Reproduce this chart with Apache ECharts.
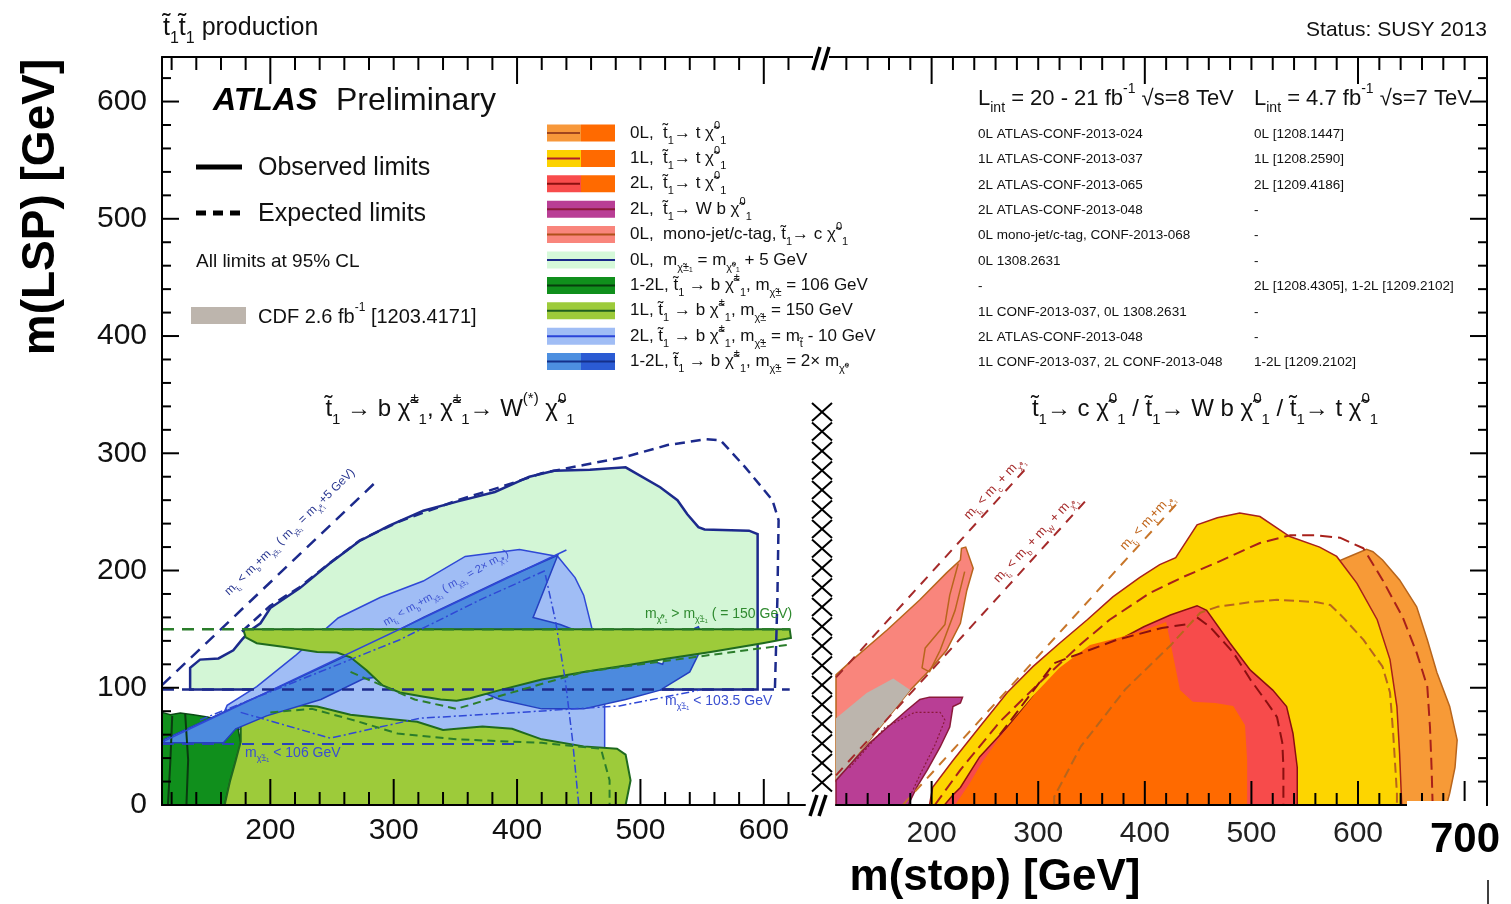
<!DOCTYPE html>
<html>
<head>
<meta charset="utf-8">
<title>Stop pair production limits</title>
<script src="https://cdn.jsdelivr.net/npm/echarts@6/dist/echarts.min.js"></script>
<style>
html, body { margin: 0; padding: 0; background: #fff; }
#main { width: 1511px; height: 904px; }
</style>
</head>
<body>
<div id="main"></div>
<script>
var T = 't\u0303', X = '\u03c7\u0303';
var FONT = "'Liberation Sans', Arial, sans-serif";

// axis ranges (GeV)
var XMIN_L = 112.2, XMAX_L = 633.4, XMIN_R = 110.3, XMAX_R = 721, YMAX = 638;

// ---------- left panel: stop -> b chargino ----------
// 0L, m(chargino) = m(LSP) + 5 GeV
var zeroLcharg = [[135,98.5],[135,117],[143,124],[158,125],[170,132],[177,141],[184,149],[192,155],[200,168],[224,185],[248,206],[272,225],[296,238],[324,251],[352,259],[382,267],[410,280],[430,285],[459,286],[488,288],[516,271],[530,260],[538,248],[547,237],[552,235],[588,234],[595,231],[595,98.5]];
var zeroLchargExp = [[177,148],[200,170],[224,186],[249,207],[273,226],[305,242],[352,260],[386,271],[420,283],[454,290],[488,297],[522,307],[553,312],[565,311],[585,288],[607,260],[612,243],[611,175],[609,98.5]];
// 1-2L, m(chargino) = 106 GeV
var charg106 = [[112.2,0],[112.2,79],[119,77],[127,78.5],[137.5,77],[149,75],[159,72.5],[173,70],[176,53],[171.5,36],[167.5,21],[163,0]];
var charg106LineA = [[120.5,76],[119,38],[117,0]];
var charg106LineB = [[131,77.6],[133.4,38.4],[132,0]];
// 1L, m(chargino) = 150 GeV
var charg150Low = [[163,0],[167.5,21],[171.5,36],[176,54],[176,72.5],[180,81],[192,85],[210,86],[238,84],[265,77],[291,74],[319,71],[340,64],[351,65],[372,67],[396,65],[420,56],[454,50],[481,48],[488,43],[492,21],[488,0]];
var charg150LowExp = [[200,79],[234,82],[272,71],[303,61],[351,56],[420,53],[468,48],[475,21],[475,0]];
var charg150Band = [[178,150],[621,150],[622,142.5],[599,138],[557,130.5],[522,125],[488,119],[454,113.5],[420,107],[386,98],[362,91],[351,89],[338,90],[321,93],[305,96],[291,102],[278,115],[265,126],[254,130],[238,130.5],[210,135],[189,138],[180,143]];
var charg150BandExp = [[265,113.5],[317,90],[351,82],[386,93],[454,113.5],[557,128],[622,137]];
// 2L, m(chargino) = m(stop) - 10 GeV
var chargM10 = [[160,72.5],[165,85],[189,101],[221,128],[255,159.5],[289,177],[324,191],[358,212],[402,218],[433,212],[447,194],[454,179],[464,136.5],[471,113.5],[471,0],[370,0],[224,38]];
var chargM10Exp = [[423,196],[431,158],[439,107],[445,55],[450,0]];
// 1-2L, m(chargino) = 2 x m(LSP)
var charg2x = [[114,56],[180,88],[214,104],[255,124],[289,141],[324,160],[358,177],[392,194],[433,213],[413,160],[435,154],[467,141],[500,126],[518,120],[522,132],[536,147],[547,152],[552,139],[540,113.5],[516,98],[488,90],[454,82],[420,82],[386,90],[352,105],[317,113.5],[275,107.5],[241,90],[197,76],[172,65],[162,53],[114,53]];
var charg2xExp = [[143,72.5],[224,106.7],[305,141],[370,175],[423,200]];
var charg2xExpLow = [[176,79],[248.5,57],[321,74],[402,79],[483,84.5],[548,98]];
// kinematic and mass lines
var kinB5 = [[112.2,102.2],[285,275]];
var kinB2x = [[112.2,53.6],[440,217.5]];
var lep103 = [[112.2,98.5],[621,98.5]];
var lep106 = [[112.2,52],[402,52]];
var lsp150 = [[112.2,150],[621,150]];

// ---------- right panel: stop -> c / Wb / t LSP ----------
var monojet = [[110.3,111],[126,124],[158,149],[189,175],[214,198],[227,209],[228,219],[232,220],[239,202],[233,183],[227,155],[214,132],[198,115],[180,98],[142,55.5],[110.3,21]];
var monojetExp = [[225,206],[217,179],[212.5,154],[194,134],[191,117],[198,113.5],[208,132],[222,166],[231,199]];
var cdf = [[110.3,74],[139,95.6],[164,108],[180,98],[142,55.5],[110.3,21]];
var wb2L = [[110.3,0],[110.3,21],[142,53],[177,81],[189,90],[198,92],[229,92],[227,87],[220,84],[217,66.5],[208,49.5],[196,30],[186,15],[178,0]];
var wb2LExp = [[123,31.6],[156,66],[184,79],[208,79],[212.5,72.5],[203,51],[189,25.6],[178,4]];
var top0L = [[306,0],[306,7],[332,50],[374,101.5],[416,136.5],[450,171],[499,188],[546,199],[574,205],[592,212],[608,218],[614,216],[623,209],[639,192],[655,169],[665,141],[674,113],[686,84],[693,55.5],[691,32],[686,10],[683,0]];
var top0LExp = [[315,0],[315,7],[340,50],[382,99],[424.5,136.5],[452,164],[468,169],[499,173],[524,175],[561.5,173],[574,170.6],[586,160],[605,141],[623,118],[630,96],[633,61],[635,32],[636.5,10],[636.5,0]];
var top1L = [[198,0],[201,15],[220,38],[245,66.5],[271,96],[295,118],[320,138],[346,158],[370,177.5],[395,194],[414,205],[429,211],[449,239],[468,245],[489,249],[508,246],[536,229],[564,220],[580,212],[599,189],[618,158],[630,124],[636.5,84],[639,44],[641,0]];
var top1LExp = [[203,0],[227,30],[264,71],[302,105],[339,136.5],[367,158],[405,181],[436,194.5],[468,207],[508,223.5],[536,230],[561.5,230],[583,228],[605,219],[623,192],[642,160],[655,130],[665,101],[667.5,66.5],[669,32],[670,0]];
var top2L = [[212,0],[220,8.5],[227,15],[245,41],[271,66.5],[295,92],[320,112.6],[346,130],[370,138],[399,152],[424,162],[449,170],[458,166],[480,138],[499,115],[520,98],[533,84],[539,61],[543,32],[543,0]];
var top2LExpA = [[264,60],[315,121],[374,141],[416,151],[438,154]];
var top2LExpB = [[449,160],[461,152],[483,130],[499,107],[515,87],[524,75],[529,53],[530,32],[530,0]];
var top7TeV = [[222,0],[236,19],[247,36],[264,58],[283,79],[298,96],[320,117],[348.5,136.5],[377,143],[399,149],[420,156],[425.5,132],[433,98],[445,88],[466,87],[483,84.5],[494,68],[496,38],[496,0]];
var kinC = [[110.3,108.8],[292,290.5]];
var kinW = [[110.3,25.3],[344,259]];
var kinT = [[173,0],[433,260]];

// tick values
var xTicksL = [120,140,160,180,200,220,240,260,280,300,320,340,360,380,400,420,440,460,480,500,520,540,560,580,600,620];
var xTicksR = [120,140,160,180,200,220,240,260,280,300,320,340,360,380,400,420,440,460,480,500,520,540,560,580,600,620,640,660,680,700];
var yTicks = [20,40,60,80,100,120,140,160,180,200,220,240,260,280,300,320,340,360,380,400,420,440,460,480,500,520,540,560,580,600,620];

// legend texts
var legendLabels = [
  '0L,  ' + T + '_{1}\u2192 t ' + X + '^{0}_{1}',
  '1L,  ' + T + '_{1}\u2192 t ' + X + '^{0}_{1}',
  '2L,  ' + T + '_{1}\u2192 t ' + X + '^{0}_{1}',
  '2L,  ' + T + '_{1}\u2192 W b ' + X + '^{0}_{1}',
  '0L,  mono-jet/c-tag, ' + T + '_{1}\u2192 c ' + X + '^{0}_{1}',
  '0L,  m_{' + X + '\u00b1\u2081} = m_{' + X + '\u2070\u2081} + 5 GeV',
  '1-2L, ' + T + '_{1} \u2192 b ' + X + '^{\u00b1}_{1}, m_{' + X + '\u00b1} = 106 GeV',
  '1L, ' + T + '_{1} \u2192 b ' + X + '^{\u00b1}_{1}, m_{' + X + '\u00b1} = 150 GeV',
  '2L, ' + T + '_{1} \u2192 b ' + X + '^{\u00b1}_{1}, m_{' + X + '\u00b1} = m_{' + T + '} - 10 GeV',
  '1-2L, ' + T + '_{1} \u2192 b ' + X + '^{\u00b1}_{1}, m_{' + X + '\u00b1} = 2\u00d7 m_{' + X + '\u2070}'
];
var refs8TeV = ['0L ATLAS-CONF-2013-024', '1L ATLAS-CONF-2013-037', '2L ATLAS-CONF-2013-065', '2L ATLAS-CONF-2013-048', '0L mono-jet/c-tag, CONF-2013-068', '0L 1308.2631', '-', '1L CONF-2013-037, 0L 1308.2631', '2L ATLAS-CONF-2013-048', '1L CONF-2013-037, 2L CONF-2013-048'];
var refs7TeV = ['0L [1208.1447]', '1L [1208.2590]', '2L [1209.4186]', '-', '-', '-', '2L [1208.4305], 1-2L [1209.2102]', '-', '-', '1-2L [1209.2102]'];

var legendStyle = [
  {l: '#f7983a', r: '#ff6a00', line: '#a0461e', half: true},
  {l: '#fcd200', r: '#ff6a00', line: '#b0202a', half: true},
  {l: '#f84c4c', r: '#ff6a00', line: '#8b1010', half: true},
  {l: '#b93e95', r: '#b93e95', line: '#8b1a3a'},
  {l: '#f9857c', r: '#f9857c', line: '#b0501a'},
  {l: '#d5f9d9', r: '#d5f9d9', line: '#1a2a8a'},
  {l: '#108f1c', r: '#108f1c', line: '#063d0c'},
  {l: '#9dcb3a', r: '#9dcb3a', line: '#1f5f1f'},
  {l: '#a0bdf5', r: '#a0bdf5', line: '#2a44d8'},
  {l: '#4d8fe0', r: '#2b5bd3', line: '#15308a'}
];

// rich text: _{..} subscript, ^{..} superscript
function rt(s) {
  var out = '', buf = '';
  function flush() { if (buf) { out += '{n|' + buf + '}'; buf = ''; } }
  for (var i = 0; i < s.length; i++) {
    var c = s.charAt(i);
    if ((c === '_' || c === '^') && s.charAt(i + 1) === '{') {
      flush();
      var j = s.indexOf('}', i);
      out += '{' + (c === '_' ? 'b' : 'p') + '|' + s.slice(i + 2, j) + '}';
      i = j;
    } else {
      buf += c;
    }
  }
  flush();
  return out;
}
function richSet(size) {
  var s = Math.round(size * 0.62);
  return {
    n: {fontSize: size, lineHeight: Math.round(size * 1.5), fontFamily: FONT},
    b: {fontSize: s, lineHeight: s, verticalAlign: 'bottom', fontFamily: FONT},
    p: {fontSize: s, lineHeight: s, verticalAlign: 'top', fontFamily: FONT}
  };
}

function region(name, pts, g, fill, stroke, lw) {
  return {
    type: 'custom', name: name, xAxisIndex: g * 2, yAxisIndex: g, data: pts, silent: true, z: 2,
    renderItem: function (params, api) {
      if (params.dataIndex !== 0) return null;
      return {
        type: 'polygon',
        shape: {points: pts.map(function (p) { return api.coord(p); })},
        style: {fill: fill, stroke: stroke || null, lineWidth: lw || 0}
      };
    }
  };
}
function curve(name, pts, g, color, width, type) {
  return {
    type: 'line', name: name, xAxisIndex: g * 2, yAxisIndex: g, data: pts, symbol: 'none', silent: true, z: 3,
    lineStyle: {color: color, width: width, type: type || 'solid'}
  };
}
function tickLine(x1, y1, x2, y2) {
  return {type: 'line', shape: {x1: x1, y1: y1, x2: x2, y2: y2}, style: {stroke: '#000', lineWidth: 2}};
}
function xTickSeries(g, vals) {
  return {
    type: 'custom', xAxisIndex: g * 2, yAxisIndex: g, data: vals, silent: true, z: 12,
    renderItem: function (params, api) {
      var v = vals[params.dataIndex];
      var pb = api.coord([v, 0]), pt = api.coord([v, YMAX]);
      var lb = v % 100 === 0 ? (g === 0 ? 26 : 24) : (g === 0 ? 13 : 12);
      var lt = v % 200 === 0 ? 27 : 13;
      return {type: 'group', children: [tickLine(pb[0], pb[1], pb[0], pb[1] - lb), tickLine(pt[0], pt[1], pt[0], pt[1] + lt)]};
    }
  };
}
function yTickSeries(g, vals) {
  return {
    type: 'custom', xAxisIndex: g * 2, yAxisIndex: g, data: vals, silent: true, z: 12,
    renderItem: function (params, api) {
      var v = vals[params.dataIndex];
      var len = v % 100 === 0 ? 17 : 9;
      var p = api.coord([g === 0 ? XMIN_L : XMAX_R, v]);
      var dir = g === 0 ? 1 : -1;
      return tickLine(p[0], p[1], p[0] + dir * len, p[1]);
    }
  };
}

var NAVY = '#1c2a8c', BLUE = '#2f48d6', DGREEN = '#1f6a1f', DRED = '#a8201a', BROWN = '#b8651c';

var series = [
  region('0L mchi+5', zeroLcharg, 0, '#d3f6d6', NAVY, 2.5),
  region('2L m-10', chargM10, 0, '#a0bdf5', BLUE, 1.5),
  region('1-2L 106', charg106, 0, '#108f1c', '#0a4a14', 1.5),
  region('1L 150 low', charg150Low, 0, '#9dcb3a', DGREEN, 2),
  region('1-2L 2x', charg2x, 0, '#4c8ade', '#2440c0', 1.5),
  region('1L 150 band', charg150Band, 0, '#9dcb3a', DGREEN, 2),
  curve('106 a', charg106LineA, 0, '#0a3a10', 2),
  curve('106 b', charg106LineB, 0, '#0a3a10', 2),
  curve('0L exp', zeroLchargExp, 0, NAVY, 2.5, [10, 6]),
  curve('kin b5', kinB5, 0, NAVY, 2.5, [12, 8]),
  curve('kin 2x', kinB2x, 0, BLUE, 1.5),
  curve('lep 103', lep103, 0, NAVY, 2.5, [12, 8]),
  curve('lep 106', lep106, 0, '#2a44b8', 2, [12, 8]),
  curve('lsp 150', lsp150, 0, '#2b7d2b', 2.5, [12, 8]),
  curve('2L exp', chargM10Exp, 0, BLUE, 1.5, [8, 3, 2, 3]),
  curve('2x exp', charg2xExp, 0, BLUE, 1.5, [8, 3, 2, 3]),
  curve('2x exp low', charg2xExpLow, 0, BLUE, 1.5, [8, 3, 2, 3]),
  curve('150 band exp', charg150BandExp, 0, '#2b7d2b', 2, [8, 5]),
  curve('150 low exp', charg150LowExp, 0, '#2b7d2b', 2, [8, 5]),

  region('monojet', monojet, 1, '#f9857c', BROWN, 1.5),
  region('CDF', cdf, 1, '#bcb5ad'),
  region('2L Wb', wb2L, 1, '#b93e95', '#8b1a3a', 1.5),
  region('0L t', top0L, 1, '#f79a37', BROWN, 1.5),
  region('1L t', top1L, 1, '#fdd500', DRED, 1.5),
  region('2L t', top2L, 1, '#f74b4b', '#8b1010', 1.5),
  region('7 TeV', top7TeV, 1, '#ff6a00'),
  curve('monojet exp', monojetExp, 1, BROWN, 1.5),
  curve('2L Wb exp', wb2LExp, 1, '#8b1a3a', 1.2, [2, 2]),
  curve('0L t exp', top0LExp, 1, BROWN, 2, [10, 5]),
  curve('1L t exp', top1LExp, 1, DRED, 2, [12, 6]),
  curve('2L t exp a', top2LExpA, 1, '#8b1010', 2, [12, 6]),
  curve('2L t exp b', top2LExpB, 1, '#8b1010', 2, [12, 6]),
  curve('kin c', kinC, 1, '#a52a2a', 2, [10, 8]),
  curve('kin W', kinW, 1, '#a52a2a', 2, [10, 8]),
  curve('kin t', kinT, 1, '#c8762a', 2, [10, 8]),

  xTickSeries(0, xTicksL),
  xTickSeries(1, xTicksR),
  yTickSeries(0, yTicks),
  yTickSeries(1, yTicks)
];

// ---------- graphic texts and decorations ----------
var gfx = [];
function addText(x, y, s, size, o) {
  o = o || {};
  gfx.push({
    type: 'text', x: x, y: y, rotation: o.rot || 0, z: 50, silent: true,
    style: {text: rt(s), rich: richSet(size), fill: o.color || '#111', fontSize: size, fontFamily: FONT,
            align: o.align || 'left', verticalAlign: 'middle'}
  });
}
function addPlain(x, y, s, size, o) {
  o = o || {};
  gfx.push({
    type: 'text', x: x, y: y, rotation: o.rot || 0, z: 50, silent: true,
    style: {text: s, fill: o.color || '#000', fontSize: size, fontFamily: FONT, fontWeight: o.weight || 'normal',
            fontStyle: o.style || 'normal', align: o.align || 'left', verticalAlign: 'middle'}
  });
}
function addLine(x1, y1, x2, y2, color, w, dash) {
  gfx.push({type: 'line', z: 50, silent: true, shape: {x1: x1, y1: y1, x2: x2, y2: y2},
            style: {stroke: color, lineWidth: w, lineDash: dash || null}});
}
function addRect(x, y, w, h, fill) {
  gfx.push({type: 'rect', z: 50, silent: true, shape: {x: x, y: y, width: w, height: h}, style: {fill: fill}});
}

addText(163, 28, T + '_{1}' + T + '_{1} production', 25);
addPlain(1487, 30, 'Status: SUSY 2013', 21, {align: 'right', color: '#111'});
addPlain(213, 101, 'ATLAS', 32, {weight: 'bold', style: 'italic'});
addPlain(336, 101, 'Preliminary', 32, {color: '#111'});
addLine(196, 167, 242, 167, '#000', 5);
addPlain(258, 168, 'Observed limits', 25, {color: '#111'});
addLine(196, 213, 206, 213, '#000', 5);
addLine(213, 213, 223, 213, '#000', 5);
addLine(230, 213, 240, 213, '#000', 5);
addPlain(258, 214, 'Expected limits', 25, {color: '#111'});
addPlain(196, 262, 'All limits at 95% CL', 19, {color: '#111'});
addRect(191, 307, 55, 17, '#bdb5ad');
addText(258, 317, 'CDF 2.6 fb^{-1} [1203.4171]', 20);

legendLabels.forEach(function (lab, i) {
  var y = 133 + 25.4 * i, st = legendStyle[i];
  addRect(547, y - 8.5, 34, 17, st.l);
  addRect(581, y - 8.5, 34, 17, st.r);
  addLine(547, y, st.half ? 580 : 615, y, st.line, 2);
  addText(630, y, lab, 17);
  addPlain(978, y + 1, refs8TeV[i], 13.5, {color: '#111'});
  addPlain(1254, y + 1, refs7TeV[i], 13.5, {color: '#111'});
});
addText(978, 99, 'L_{int} = 20 - 21 fb^{-1} \u221as=8 TeV', 22);
addText(1254, 99, 'L_{int} = 4.7 fb^{-1} \u221as=7 TeV', 22);

addText(450, 409, T + '_{1} \u2192 b ' + X + '^{\u00b1}_{1}, ' + X + '^{\u00b1}_{1}\u2192 W^{(*)} ' + X + '^{0}_{1}', 24, {align: 'center'});
addText(1205, 409, T + '_{1}\u2192 c ' + X + '^{0}_{1} / ' + T + '_{1}\u2192 W b ' + X + '^{0}_{1} / ' + T + '_{1}\u2192 t ' + X + '^{0}_{1}', 24, {align: 'center'});

addText(290, 532, 'm_{' + T + '\u2081} < m_{b}+m_{' + X + '\u00b1\u2081} ( m_{' + X + '\u00b1\u2081} = m_{' + X + '\u2070\u2081}+5 GeV)', 12, {color: '#26348f', align: 'center', rot: 0.77});
addText(446, 588, 'm_{' + T + '\u2081} < m_{b}+m_{' + X + '\u00b1\u2081} ( m_{' + X + '\u00b1\u2081} = 2\u00d7 m_{' + X + '\u2070\u2081})', 11, {color: '#3a4fd0', align: 'center', rot: 0.52});
addText(645, 614, 'm_{' + X + '\u2070\u2081} > m_{' + X + '\u00b1\u2081} ( = 150 GeV)', 14, {color: '#2f8a2f'});
addText(665, 701, 'm_{' + X + '\u00b1\u2081} < 103.5 GeV', 14, {color: '#3a4fd0'});
addText(245, 753, 'm_{' + X + '\u00b1\u2081} < 106 GeV', 14, {color: '#3a4fd0'});
addText(994, 488, 'm_{' + T + '\u2081} < m_{c} + m_{' + X + '\u2070\u2081}', 13, {color: '#a52a2a', align: 'center', rot: 0.82});
addText(1035, 539, 'm_{' + T + '\u2081} < m_{b} + m_{W} + m_{' + X + '\u2070\u2081}', 13, {color: '#a52a2a', align: 'center', rot: 0.82});
addText(1147, 522, 'm_{' + T + '\u2081} < m_{t}+m_{' + X + '\u2070\u2081}', 13, {color: '#c0651a', align: 'center', rot: 0.82});

// axis break marks and hatched gap
addLine(805, 57, 813, 57, '#000', 2);
addLine(829, 57, 836, 57, '#000', 2);
addLine(813, 70, 820, 47, '#000', 3.5);
addLine(822, 70, 829, 47, '#000', 3.5);
addLine(810, 816, 817, 795, '#000', 3.5);
addLine(819, 816, 826, 795, '#000', 3.5);
for (var k = 0; k < 20; k++) {
  var cy = 412 + k * 19.5;
  addLine(812, cy - 9, 832, cy + 9, '#000', 2);
  addLine(812, cy + 9, 832, cy - 9, '#000', 2);
}
addRect(1407, 801, 79, 12, '#fff');

addPlain(41, 207, 'm(LSP) [GeV]', 46, {weight: 'bold', align: 'center', rot: Math.PI / 2});
addPlain(995, 878, 'm(stop) [GeV]', 44, {weight: 'bold', align: 'center'});
addPlain(1465, 840, '700', 42, {weight: 'bold', align: 'center'});
addLine(1488, 880, 1488, 904, '#000', 1.5);

function xAx(g, pos, labels) {
  return {
    type: 'value', gridIndex: g, position: pos, z: 10,
    min: g === 0 ? XMIN_L : XMIN_R, max: g === 0 ? XMAX_L : XMAX_R,
    minInterval: 100, maxInterval: 100,
    axisLine: {show: true, lineStyle: {color: '#000', width: 2}},
    axisTick: {show: false}, splitLine: {show: false},
    axisLabel: {
      show: labels, fontSize: 30, fontFamily: FONT, color: g === 0 ? '#111' : '#222', margin: g === 0 ? 11 : 14,
      formatter: function (v) { return (v % 100 === 0 && v <= 600) ? String(v) : ''; }
    }
  };
}
function yAx(g) {
  return {
    type: 'value', gridIndex: g, position: g === 0 ? 'left' : 'right', z: 10,
    min: 0, max: YMAX, minInterval: 100, maxInterval: 100,
    axisLine: {show: true, lineStyle: {color: '#000', width: 2}},
    axisTick: {show: false}, splitLine: {show: false},
    axisLabel: {
      show: g === 0, fontSize: 30, fontFamily: FONT, color: '#111', margin: 15,
      formatter: function (v) { return v % 100 === 0 ? String(v) : ''; }
    }
  };
}

var chart = echarts.init(document.getElementById('main'), null, {renderer: 'canvas'});
chart.setOption({
  animation: false,
  backgroundColor: '#fff',
  grid: [
    {left: 162, top: 57, width: 643, height: 748},
    {left: 836, top: 57, width: 651, height: 748}
  ],
  xAxis: [xAx(0, 'bottom', true), xAx(0, 'top', false), xAx(1, 'bottom', true), xAx(1, 'top', false)],
  yAxis: [yAx(0), yAx(1)],
  series: series,
  graphic: gfx
});
</script>
</body>
</html>
